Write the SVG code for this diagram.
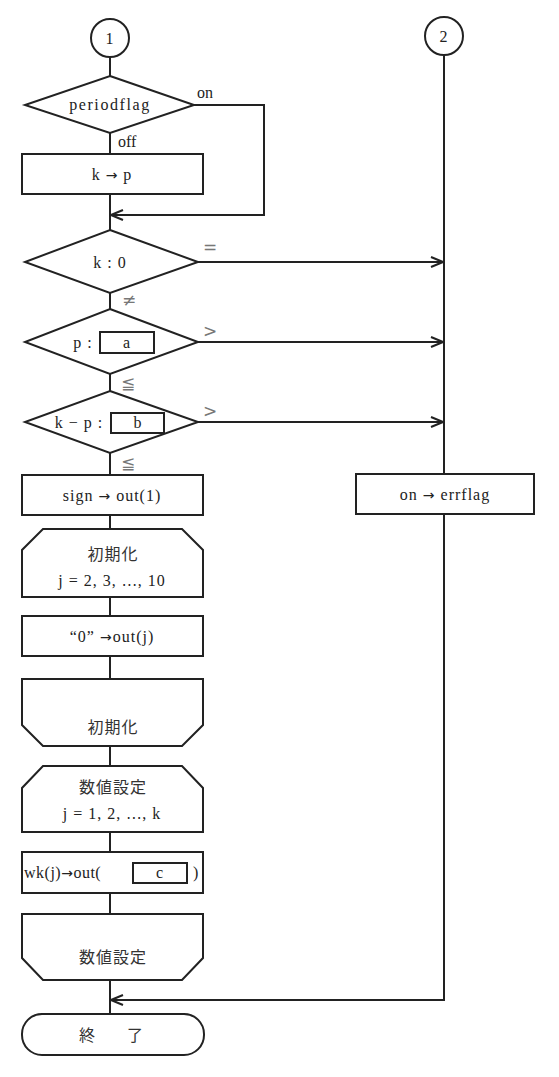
<svg xmlns="http://www.w3.org/2000/svg" width="559" height="1077" viewBox="0 0 559 1077">
<style>
.s{fill:#fff;stroke:#222;stroke-width:2}
.l{fill:none;stroke:#222;stroke-width:2}
.t{font-family:"Liberation Serif","Noto Sans CJK JP",serif;font-size:16px;fill:#222;text-anchor:middle;letter-spacing:1px}
.j{font-family:"Noto Sans CJK JP","Liberation Serif",sans-serif;font-size:16px;fill:#333;text-anchor:middle;letter-spacing:1px}
.g{font-family:"DejaVu Sans","Noto Sans CJK JP",sans-serif;font-size:17px;fill:#777}
.lb{font-family:"Liberation Serif","Noto Sans CJK JP",serif;font-size:16px;fill:#222}
.a{font-family:"DejaVu Sans",sans-serif;font-size:14px}
.e{font-family:"Noto Sans CJK JP",sans-serif;font-size:14px}
</style>
<defs>
<marker id="ar" markerWidth="14" markerHeight="12" refX="13" refY="6" orient="auto" markerUnits="userSpaceOnUse">
<path d="M1,1 L13,6 L1,11" fill="none" stroke="#222" stroke-width="2"/>
</marker>
</defs>
<g id="connectors">
<path class="l" d="M110,57 V76 M110,133 V154 M110,194 V230 M110,293 V309 M110,374 V391 M110,453 V475 M110,515 V529 M110,597 V616 M110,656 V679 M110,746 V766 M110,832 V852 M110,893 V914 M110,980 V1014"/>
<path class="l" d="M194,105 H264 V215 H111" marker-end="url(#ar)"/>
<path class="l" d="M198,262 H443" marker-end="url(#ar)"/>
<path class="l" d="M198,342 H443" marker-end="url(#ar)"/>
<path class="l" d="M198,422 H443" marker-end="url(#ar)"/>
<path class="l" d="M444,55 V474"/>
<path class="l" d="M444,514 V1000 H111" marker-end="url(#ar)"/>
<text class="lb" x="197" y="98">on</text>
<text class="lb" x="118" y="147">off</text>
<text class="g" x="203" y="253">=</text>
<text class="g" x="122" y="306">≠</text>
<text class="g" x="203" y="337">&gt;</text>
<text class="g" x="121" y="389">≦</text>
<text class="g" x="203" y="417">&gt;</text>
<text class="g" x="121" y="469">≦</text>
</g>
<g id="c1"><circle class="s" cx="110" cy="38" r="19"/><text class="t" x="110" y="44">1</text></g>
<g id="c2"><circle class="s" cx="444" cy="36" r="19"/><text class="t" x="444" y="42">2</text></g>
<g id="d1"><polygon class="s" points="110,76 194,105 110,133 25,105"/><text class="t" x="110" y="110" style="letter-spacing:1.6px">periodflag</text></g>
<g id="b1"><rect class="s" x="22" y="154" width="181" height="40"/><text class="t" x="112" y="180">k <tspan class="a">→</tspan> p</text></g>
<g id="d2"><polygon class="s" points="110,230 198,262 110,293 25,262"/><text class="t" x="110" y="268">k : 0</text></g>
<g id="d3"><polygon class="s" points="110,309 198,342 110,374 25,342"/><text class="t" x="83" y="348">p :</text><rect class="s" x="100" y="332" width="54" height="21"/><text class="t" x="127" y="348">a</text></g>
<g id="d4"><polygon class="s" points="110,391 198,422 110,453 25,422"/><text class="t" x="79" y="428">k − p :</text><rect class="s" x="111" y="413" width="53" height="20" fill-opacity="0"/><text class="t" x="138" y="428">b</text></g>
<g id="b2"><rect class="s" x="22" y="475" width="181" height="40"/><text class="t" x="112" y="501">sign <tspan class="a">→</tspan> out(1)</text></g>
<g id="e1"><rect class="s" x="356" y="474" width="178" height="40"/><text class="t" x="445" y="500">on <tspan class="a">→</tspan> errflag</text></g>
<g id="l1"><polygon class="s" points="43,529 182,529 203,550 203,597 22,597 22,550"/><text class="j" x="113" y="560">初期化</text><text class="t" x="112" y="586">j = 2, 3, <tspan class="e">⋯</tspan>, 10</text></g>
<g id="b3"><rect class="s" x="22" y="616" width="181" height="40"/><text class="t" x="112" y="642">“0” <tspan class="a">→</tspan>out(j)</text></g>
<g id="l2"><polygon class="s" points="22,679 203,679 203,725 182,746 43,746 22,725"/><text class="j" x="113" y="733">初期化</text></g>
<g id="l3"><polygon class="s" points="43,766 182,766 203,788 203,832 22,832 22,788"/><text class="j" x="113" y="793">数値設定</text><text class="t" x="112" y="819">j = 1, 2, <tspan class="e">⋯</tspan>, k</text></g>
<g id="b4"><rect class="s" x="22" y="852" width="181" height="41"/><text class="lb" x="24" y="878" style="letter-spacing:0.5px">wk(j)<tspan class="a">→</tspan>out(</text><rect class="s" x="133" y="863" width="54" height="20"/><text class="t" x="160" y="878">c</text><text class="lb" x="193" y="878">)</text></g>
<g id="l4"><polygon class="s" points="22,914 203,914 203,958 182,980 43,980 22,958"/><text class="j" x="113" y="963">数値設定</text></g>
<g id="end"><rect class="s" x="22" y="1014" width="182" height="41" rx="20" ry="20"/><text class="j" x="111" y="1041" style="letter-spacing:0">終　　了</text></g>
</svg>
